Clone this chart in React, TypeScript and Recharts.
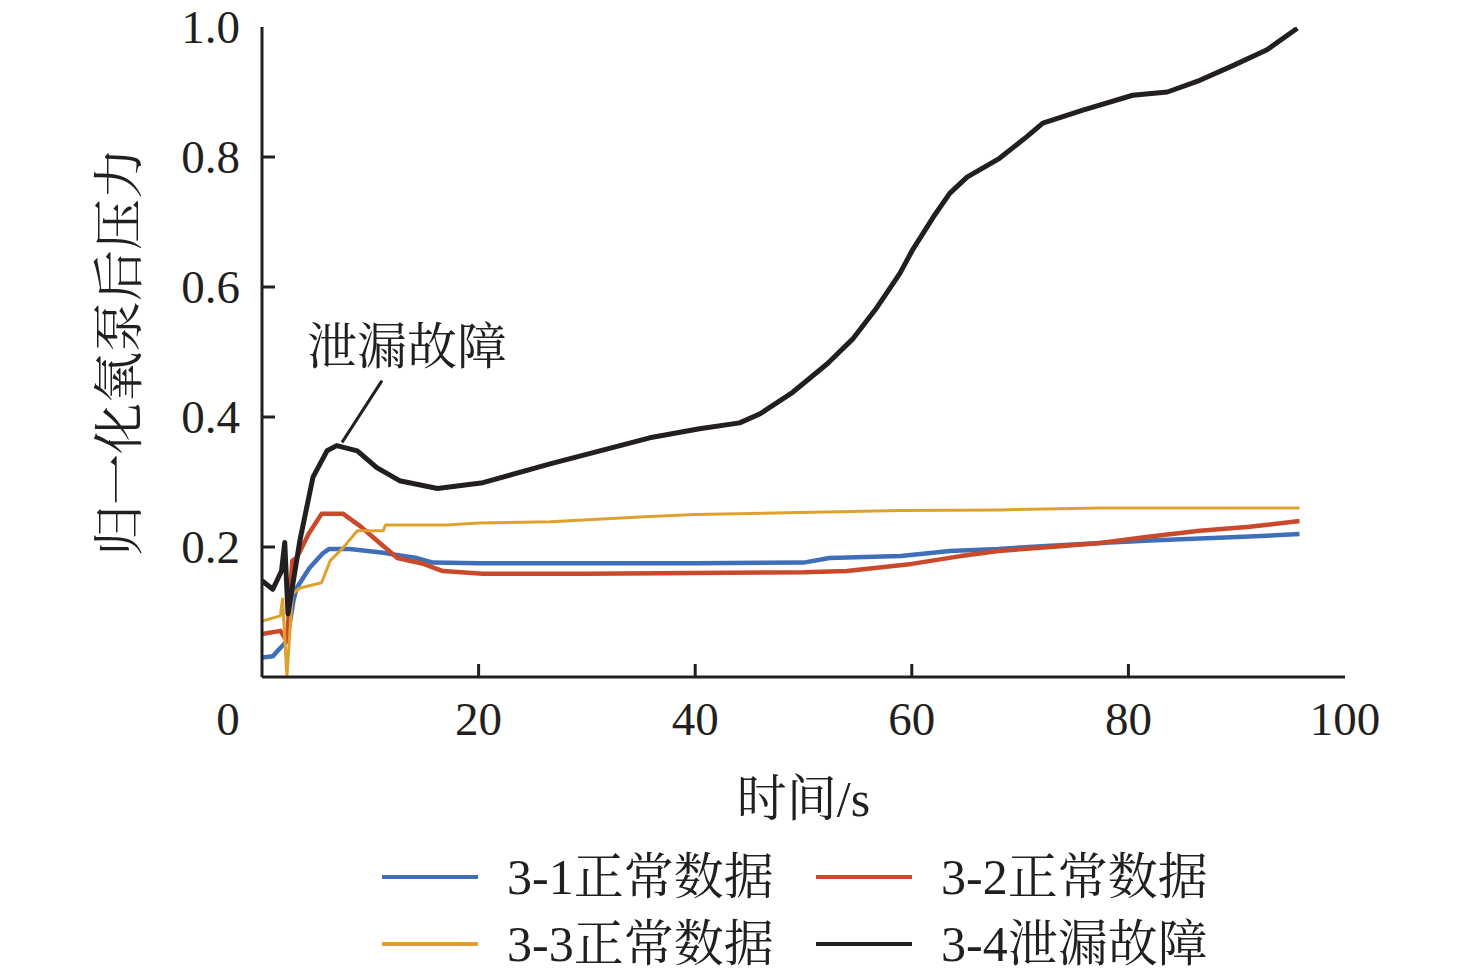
import React from "react";
import {
  LineChart,
  Line,
  XAxis,
  YAxis,
  Legend,
  ReferenceLine,
  ReferenceDot,
  Label,
} from "recharts";

const FONT = "'Liberation Serif', 'Noto Serif CJK SC', 'Noto Sans CJK SC', serif";
const INK = "#231f20";

// tick labels
const xTicks = [0, 20, 40, 60, 80, 100];
const yTicks = [0.2, 0.4, 0.6, 0.8, 1.0];

// 3-1 normal data (blue)
const s1Time = [0, 1.0, 1.7, 2.3, 2.9, 3.2, 4.4, 5.6, 6.2, 8.1, 11.2, 14.3, 15.8, 20, 30, 40, 50, 52.4, 59, 63.5, 68, 72.8, 77.4, 82, 86.6, 91.2, 95.8];
const s1Val = [0.03, 0.032, 0.045, 0.055, 0.117, 0.137, 0.168, 0.19, 0.197, 0.197, 0.191, 0.183, 0.176, 0.175, 0.175, 0.175, 0.176, 0.183, 0.186, 0.194, 0.197, 0.202, 0.206, 0.21, 0.213, 0.216, 0.22];

// 3-2 normal data (red)
const s2Time = [0, 1.7, 2.3, 2.8, 3.2, 4.3, 5.5, 7.5, 9.0, 10.6, 12.5, 14.9, 16.7, 20.4, 30, 40, 50, 54, 60, 64.5, 68, 72.8, 77.4, 82, 86.6, 91.2, 95.8];
const s2Val = [0.066, 0.071, 0.055, 0.179, 0.183, 0.22, 0.251, 0.251, 0.233, 0.21, 0.183, 0.174, 0.163, 0.159, 0.159, 0.16, 0.161, 0.163, 0.174, 0.186, 0.194, 0.2, 0.206, 0.216, 0.225, 0.231, 0.24];

// 3-3 normal data (yellow)
const s3Time = [0, 1.7, 1.9, 2.3, 2.8, 3.5, 5.5, 6.3, 7.5, 8.8, 11.2, 11.4, 17, 20, 26.6, 35.8, 40, 49.7, 59, 68, 77.4, 95.8];
const s3Val = [0.086, 0.094, 0.12, 0.0, 0.128, 0.137, 0.145, 0.179, 0.199, 0.225, 0.225, 0.234, 0.234, 0.237, 0.239, 0.247, 0.25, 0.253, 0.256, 0.257, 0.26, 0.26];

// 3-4 leak fault (black)
const s4Time = [0, 1.0, 1.8, 2.1, 2.4, 3.5, 4.7, 6.0, 6.9, 8.8, 10.6, 12.7, 16.2, 20.4, 26.6, 35.8, 40.4, 44.1, 46.0, 49.0, 52.2, 54.6, 56.8, 58.9, 60.1, 62.0, 63.5, 65.1, 68.1, 70.6, 72.1, 75.8, 80.4, 83.6, 86.6, 89.7, 92.8, 95.6];
const s4Val = [0.148, 0.135, 0.163, 0.207, 0.097, 0.21, 0.307, 0.348, 0.356, 0.348, 0.322, 0.302, 0.29, 0.299, 0.328, 0.368, 0.382, 0.391, 0.405, 0.438, 0.482, 0.521, 0.569, 0.621, 0.658, 0.708, 0.744, 0.769, 0.798, 0.831, 0.852, 0.872, 0.895, 0.9, 0.918, 0.941, 0.965, 0.998];

const toPoints = (t: number[], v: number[]) => t.map((x, i) => ({ t: x, v: v[i] }));

const series = [
  { name: "3-1正常数据", color: "#3f6fb8", width: 4.5, data: toPoints(s1Time, s1Val) },
  { name: "3-2正常数据", color: "#c9492a", width: 4.5, data: toPoints(s2Time, s2Val) },
  { name: "3-3正常数据", color: "#dfa12e", width: 3, data: toPoints(s3Time, s3Val) },
  { name: "3-4泄漏故障", color: INK, width: 5, data: toPoints(s4Time, s4Val) },
];

const XTick = (props: any) => {
  const { x, y, payload } = props;
  const shift = payload.value === 0 ? -34 : 0;
  return (
    <g>
      {payload.value !== 0 && payload.value !== 100 && (
        <line x1={x} y1={y} x2={x} y2={y - 13} stroke={INK} strokeWidth={3} />
      )}
      <text x={x + shift} y={y + 58} textAnchor="middle" fontFamily={FONT} fontSize={47} fill={INK}>
        {payload.value}
      </text>
    </g>
  );
};

const YTick = (props: any) => {
  const { x, y, payload } = props;
  return (
    <g>
      {payload.value !== 1 && <line x1={x} y1={y} x2={x + 13} y2={y} stroke={INK} strokeWidth={3} />}
      <text x={x - 22} y={y + 16} textAnchor="end" fontFamily={FONT} fontSize={47} fill={INK}>
        {payload.value.toFixed(1)}
      </text>
    </g>
  );
};

const LegendBox = (props: any) => {
  const items = props.payload || [];
  return (
    <div style={{ position: "relative", width: 1476, height: 140 }}>
      {items.map((it: any, i: number) => (
        <div
          key={it.value}
          style={{
            position: "absolute",
            left: i % 2 === 0 ? 382 : 816,
            top: Math.floor(i / 2) * 67,
            height: 60,
            display: "flex",
            alignItems: "center",
          }}
        >
          <svg width={96} height={10}>
            <line x1={0} y1={5} x2={96} y2={5} stroke={it.color} strokeWidth={4} />
          </svg>
          <span style={{ marginLeft: 29, fontFamily: FONT, fontSize: 50, color: INK, lineHeight: "60px" }}>
            {it.value}
          </span>
        </div>
      ))}
    </div>
  );
};

export default function App() {
  return (
    <div style={{ margin: -8 }}>
      <LineChart width={1476} height={977} margin={{ top: 27, right: 131, left: 142, bottom: 70 }}>
        <XAxis
          xAxisId={0}
          dataKey="t"
          type="number"
          domain={[0, 100]}
          ticks={xTicks}
          tick={<XTick />}
          tickLine={false}
          tickSize={0}
          tickMargin={0}
          height={90}
          axisLine={{ stroke: INK, strokeWidth: 3 }}
          allowDataOverflow
        >
          <Label
            content={(p: any) => (
              <text
                x={p.viewBox.x + p.viewBox.width / 2}
                y={p.viewBox.y + 139}
                textAnchor="middle"
                fontFamily={FONT}
                fontSize={50}
                fill={INK}
              >
                时间/s
              </text>
            )}
          />
        </XAxis>
        <XAxis
          xAxisId="top"
          orientation="top"
          type="number"
          domain={[0, 100]}
          tick={false}
          tickLine={false}
          height={0}
          axisLine={{ stroke: INK, strokeWidth: 3 }}
        />
        <YAxis
          yAxisId={0}
          type="number"
          domain={[0, 1]}
          ticks={yTicks}
          tick={<YTick />}
          tickLine={false}
          tickSize={0}
          tickMargin={0}
          width={120}
          axisLine={{ stroke: INK, strokeWidth: 3 }}
          allowDataOverflow
        >
          <Label
            content={(p: any) => {
              const cx = p.viewBox.x - 22;
              const cy = p.viewBox.y + p.viewBox.height / 2;
              return (
                <text
                  x={cx}
                  y={cy}
                  transform={`rotate(-90 ${cx} ${cy})`}
                  textAnchor="middle"
                  dominantBaseline="central"
                  fontFamily={FONT}
                  fontSize={51}
                  fill={INK}
                >
                  归一化氧泵后压力
                </text>
              );
            }}
          />
        </YAxis>
        <YAxis
          yAxisId="right"
          orientation="right"
          type="number"
          domain={[0, 1]}
          tick={false}
          tickLine={false}
          width={0}
          axisLine={{ stroke: INK, strokeWidth: 3 }}
        />
        <Legend
          verticalAlign="bottom"
          content={<LegendBox />}
          wrapperStyle={{ left: 0, top: 847, width: 1476, bottom: "auto" }}
        />
        {series.map((s) => (
          <Line
            key={s.name}
            data={s.data}
            dataKey="v"
            name={s.name}
            type="linear"
            stroke={s.color}
            strokeWidth={s.width}
            strokeLinejoin="round"
            dot={false}
            isAnimationActive={false}
            legendType="line"
          />
        ))}
        <ReferenceLine
          segment={[
            { x: 11.08, y: 0.456 },
            { x: 7.39, y: 0.361 },
          ]}
          stroke={INK}
          strokeWidth={3}
        />
        <ReferenceDot x={13.4} y={0.507} r={0} fill="none" stroke="none">
          <Label
            content={(p: any) => (
              <text
                x={p.viewBox.cx ?? p.viewBox.x}
                y={(p.viewBox.cy ?? p.viewBox.y) + 17}
                textAnchor="middle"
                fontFamily={FONT}
                fontSize={50}
                fill={INK}
              >
                泄漏故障
              </text>
            )}
          />
        </ReferenceDot>
      </LineChart>
    </div>
  );
}
